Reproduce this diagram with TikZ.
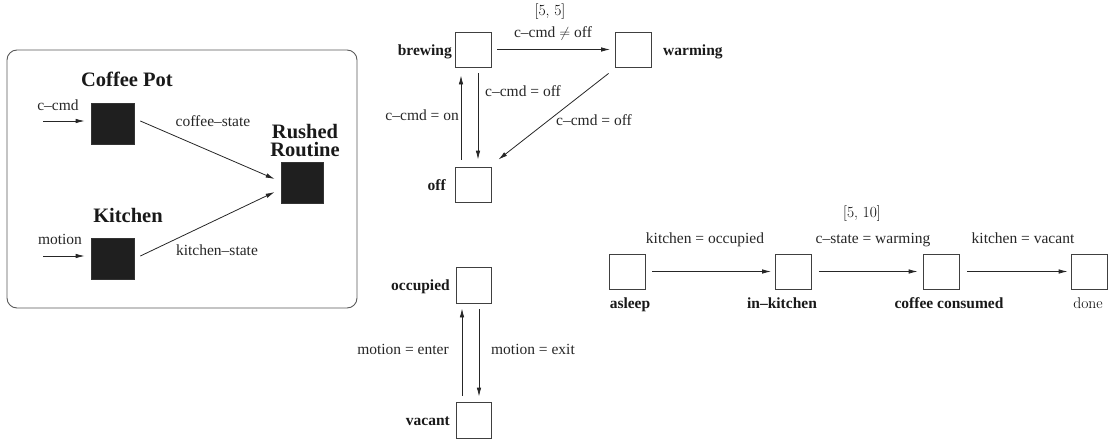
\documentclass[tikz,border=0pt]{standalone}
\usepackage{fontspec}
\setmainfont{Liberation Serif}
\newfontfamily\lmfont{Latin Modern Roman}
\usetikzlibrary{arrows.meta}
\begin{document}
\begin{tikzpicture}[x=1pt,y=-1pt,
  arr/.style={draw=black!85, line width=0.8pt, -{Latex[length=9pt,width=4.5pt]}},
  blk/.style={draw=black!80, fill=black!88, line width=0.7pt, inner sep=0pt, minimum width=43pt, minimum height=41pt},
  stbox/.style={draw=black!75, fill=white, line width=0.8pt, inner sep=0pt, minimum width=36pt, minimum height=35pt},
  ttl/.style={font=\fontsize{20.5}{18}\selectfont\bfseries, inner sep=0pt, text=black!90},
  lbl/.style={font=\fontsize{15.5}{17}\selectfont, inner sep=0pt, text=black!85},
  bl/.style={font=\fontsize{15.5}{17}\selectfont\bfseries, inner sep=0pt, text=black!90},
  lmtext/.style={font=\fontsize{15.5}{17}\selectfont\lmfont, inner sep=0pt, text=black}]
\useasboundingbox (0,0) rectangle (1109,442);

% ---------- left box ----------
\draw[draw=black!65, line width=0.9pt, rounded corners=10pt] (7,50) rectangle (357,308);
\node[blk] (cp) at (112.5,123.5) {};
\node[blk] (kit) at (112.5,258.5) {};
\node[blk, minimum width=42pt] (rr) at (302,182.5) {};
\node[ttl, anchor=base] (cpt) at (127,86.5) {Coffee Pot};
\node[ttl, anchor=base] (kitt) at (128,222) {Kitchen};
\node[ttl, anchor=base, text height=13.5pt, text depth=0pt] (rrt1) at (305,138) {Rushed};
\node[ttl, anchor=base, text height=13.5pt, text depth=0pt] (rrt2) at (305,156) {Routine};
\coordinate (cin) at (43,121);
\coordinate (min) at (43,256);
\draw[arr, shorten >=6pt] (cin) -- (cin -| cp.west);
\draw[arr, shorten >=6pt] (min) -- (min -| kit.west);
\node[lbl, anchor=base] (cinl) at (58,110) {c–cmd};
\node[lbl, anchor=base] (minl) at (60,244) {motion};
\draw[arr] ([shift={(6,-2.5)}]cp.east) -- ([shift={(-6,-3.5)}]rr.west);
\draw[arr] ([shift={(6,-2.5)}]kit.east) -- ([shift={(-6,9.5)}]rr.west);
\node[lbl, anchor=base] (csl) at (213,126) {coffee–state};
\node[lbl, anchor=base] (ksl) at (217,255) {kitchen–state};

% ---------- coffee pot machine ----------
\node[lmtext, anchor=base] (t55) at (550,15) {[5, 5]};
\node[stbox] (brew) at (473,49.5) {};
\node[stbox] (warm) at (633.5,49.5) {};
\node[stbox] (off) at (473,184.5) {};
\node[bl, anchor=base east] (brewl) at (452,55) {brewing};
\node[bl, anchor=base west] (warml) at (663,55) {warming};
\node[bl, anchor=base east] (offl) at (446,190) {off};
\draw[arr, shorten <=6pt, shorten >=5pt] (brew) -- (warm);
\node[lbl, anchor=base] (bwl) at (553,37) {c–cmd $\neq$ off};
\draw[arr] ([shift={(5,6)}]brew.south) -- ([shift={(5,-7)}]off.north);
\draw[arr] ([shift={(-12,-7)}]off.north) -- ([shift={(-12,8)}]brew.south);
\node[lbl, anchor=base west] (bol) at (485,96) {c–cmd = off};
\node[lbl, anchor=base east] (obl) at (459,120) {c–cmd = on};
\draw[arr] ([shift={(-6.5,6)}]warm.south west) -- ([shift={(7,-7)}]off.north east);
\node[lbl, anchor=base] (wol) at (594,125) {c–cmd = off};

% ---------- kitchen machine ----------
\node[stbox, minimum width=35pt, minimum height=36pt] (occ) at (473.5,285) {};
\node[stbox, minimum width=35pt, minimum height=36pt] (vac) at (473.5,420) {};
\node[bl, anchor=base east] (occl) at (450,290) {occupied};
\node[bl, anchor=base east] (vacl) at (450,425) {vacant};
\draw[arr] ([shift={(-11.5,-6)}]vac.north) -- ([shift={(-11.5,5)}]occ.south);
\draw[arr] ([shift={(5.5,6)}]occ.south) -- ([shift={(5.5,-5)}]vac.north);
\node[lbl, anchor=base] (mel) at (403,354) {motion = enter};
\node[lbl, anchor=base] (mxl) at (533,354) {motion = exit};

% ---------- rushed routine machine ----------
\node[lmtext, anchor=base] (t510) at (862,217) {[5, 10]};
\node[stbox] (asl) at (627,271.5) {};
\node[stbox] (ink) at (793.5,271.5) {};
\node[stbox] (ccs) at (941,271.5) {};
\node[stbox] (don) at (1089,271.5) {};
\draw[arr, shorten <=7pt, shorten >=4pt] (asl) -- (ink);
\draw[arr, shorten <=7pt, shorten >=5pt] (ink) -- (ccs);
\draw[arr, shorten <=8pt, shorten >=3pt] (ccs) -- (don);
\node[lbl, anchor=base] (e1) at (705,243) {kitchen = occupied};
\node[lbl, anchor=base] (e2) at (873,243) {c–state = warming};
\node[lbl, anchor=base] (e3) at (1023,243) {kitchen = vacant};
\node[bl, anchor=base] (asll) at (630,308) {asleep};
\node[bl, anchor=base] (inkl) at (782,308) {in–kitchen};
\node[bl, anchor=base] (ccsl) at (949,308) {coffee consumed};
\node[lmtext, anchor=base] (donl) at (1088,308) {done};
\end{tikzpicture}
\end{document}
